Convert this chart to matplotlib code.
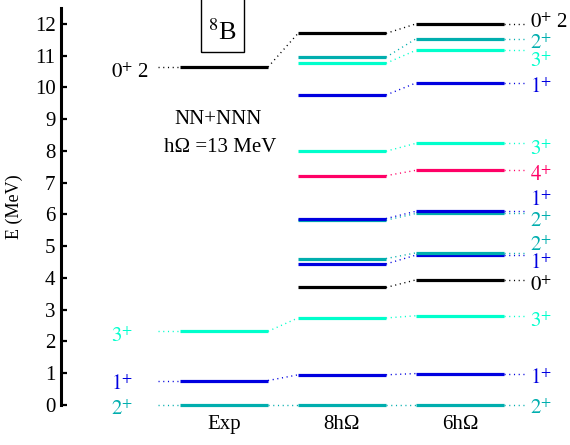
import matplotlib
matplotlib.use("Agg")
import matplotlib.pyplot as plt
import numpy as np
from matplotlib.patches import Rectangle
import matplotlib.transforms as mtransforms

plt.rcParams['font.family'] = ['Liberation Serif', 'DejaVu Serif']
plt.rcParams['mathtext.fontset'] = 'stix'

# ---------------- data ----------------
columns = ["Exp", "8hΩ", "6hΩ"]
state_labels = ["$2^{+}$", "$1^{+}$", "$3^{+}$", "$0^{+}$", "$1^{+}$", "$2^{+}$", "$2^{+}$",
                "$1^{+}$", "$4^{+}$", "$3^{+}$", "$1^{+}$", "$3^{+}$", "$2^{+}$", "$0^{+}$ 2"]
state_colors = ["#00AEAE", "#0000E0", "#00FFCC", "#000000", "#0000E0", "#00AEAE", "#00AEAE",
                "#0000E0", "#FF0066", "#00FFCC", "#0000E0", "#00FFCC", "#00AEAE", "#000000"]
nan = np.nan
E_exp = [0.0, 0.77, 2.32, nan, nan, nan, nan, nan, nan, nan, nan, nan, nan, 10.64]
E_8 = [0.0, 0.95, 2.74, 3.70, 4.44, 4.61, 5.82, 5.87, 7.22, 7.99, 9.76, 10.76, 10.95, 11.70]
E_6 = [0.0, 0.99, 2.81, 3.94, 4.72, 4.79, 6.03, 6.10, 7.39, 8.24, 10.14, 11.17, 11.53, 12.00]
# label heights (digit centres)
label_right = [-0.06, 0.89, 2.69, 3.81, 4.51, 5.07, 5.83, 6.49, 7.28, 8.11, 10.05, 10.86, 11.43, 12.09]
label_left = [-0.08, 0.69, 2.20, nan, nan, nan, nan, nan, nan, nan, nan, nan, nan, 10.53]
yticks = list(range(0, 13))

energies = [E_exp, E_8, E_6]

# ---------------- figure ----------------
W, H = 570, 445
fig = plt.figure(figsize=(W / 100, H / 100), dpi=100)
ax_left_px, ax_right_px, ax_top_px, ax_bot_px = 61, 570, 8, 405
ax = fig.add_axes([ax_left_px / W, 1 - ax_bot_px / H,
                   (ax_right_px - ax_left_px) / W, (ax_bot_px - ax_top_px) / H])
ax.patch.set_alpha(0)

centre0, spacing = 224, 118
ax.set_xlim((ax_left_px - centre0) / spacing, (ax_right_px - centre0) / spacing)
ax.set_ylim(0, 12.5)

hw = 0.373
lw_level = 2.3
dot = dict(linestyle=(0, (0.8, 2.6)), linewidth=1.0, clip_on=False)

order = list(range(len(state_labels)))

for ci, E in enumerate(energies):
    for si in order:
        e = E[si]
        if np.isnan(e):
            continue
        ax.plot([ci - hw, ci + hw], [e, e], color=state_colors[si], lw=lw_level,
                solid_capstyle='butt', clip_on=False, zorder=3 + (si == 5 and ci == 2))

# connectors between columns
for ci in range(len(energies) - 1):
    for si in order:
        a, b = energies[ci][si], energies[ci + 1][si]
        if np.isnan(a) or np.isnan(b):
            continue
        ax.plot([ci + hw, ci + 1 - hw], [a, b], color=state_colors[si], **dot)

# right connectors and labels
x_right_end = (527 - centre0) / spacing
x_right_lab = (530 - centre0) / spacing
off = mtransforms.offset_copy(ax.transData, fig=fig, x=0, y=-5.2, units='points')
for si in order:
    e = E_6[si]
    ax.plot([2 + hw, x_right_end], [e, e], color=state_colors[si], **dot)
    ax.text(x_right_lab, label_right[si], state_labels[si], color=state_colors[si],
            fontsize=15, ha='left', va='baseline', transform=off)

# left connectors and labels (Exp)
x_left_start = (158 - centre0) / spacing
x_left_lab = (111 - centre0) / spacing
for si in order:
    e = E_exp[si]
    if np.isnan(e):
        continue
    ax.plot([x_left_start, -hw], [e, e], color=state_colors[si], **dot)
    ax.text(x_left_lab, label_left[si], state_labels[si], color=state_colors[si],
            fontsize=15, ha='left', va='baseline', transform=off)

# axes styling
for s in ['top', 'right', 'bottom']:
    ax.spines[s].set_visible(False)
ax.spines['left'].set_linewidth(2.2)
ax.set_yticks(yticks)
ax.set_yticklabels([str(t) for t in yticks], fontsize=15)
ax.tick_params(axis='y', direction='in', length=4, width=1.6, pad=4)
ax.set_xticks(range(len(columns)))
ax.set_xticklabels(columns, fontsize=15)
ax.tick_params(axis='x', length=0, pad=7)
ax.set_ylabel("E (MeV)", fontsize=13)
ax.yaxis.set_label_coords(-0.074, 0.5)

# annotations
def fx(px):
    return px / W

def fy(py):
    return 1 - py / H

fig.add_artist(Rectangle((fx(201), fy(52)), fx(244) - fx(201), fy(-5) - fy(52),
                         transform=fig.transFigure, fill=False, lw=1.0, ec='black',
                         clip_on=False))
fig.text(fx(222.5), fy(40), "$^{8}$B", fontsize=19, ha='center', va='baseline')
fig.text(fx(218), fy(120), "NN+NNN", fontsize=15, ha='center', va='center')
fig.text(fx(220), fy(148), "hΩ =13 MeV", fontsize=15, ha='center', va='center')

fig.savefig("out.png", dpi=100)
